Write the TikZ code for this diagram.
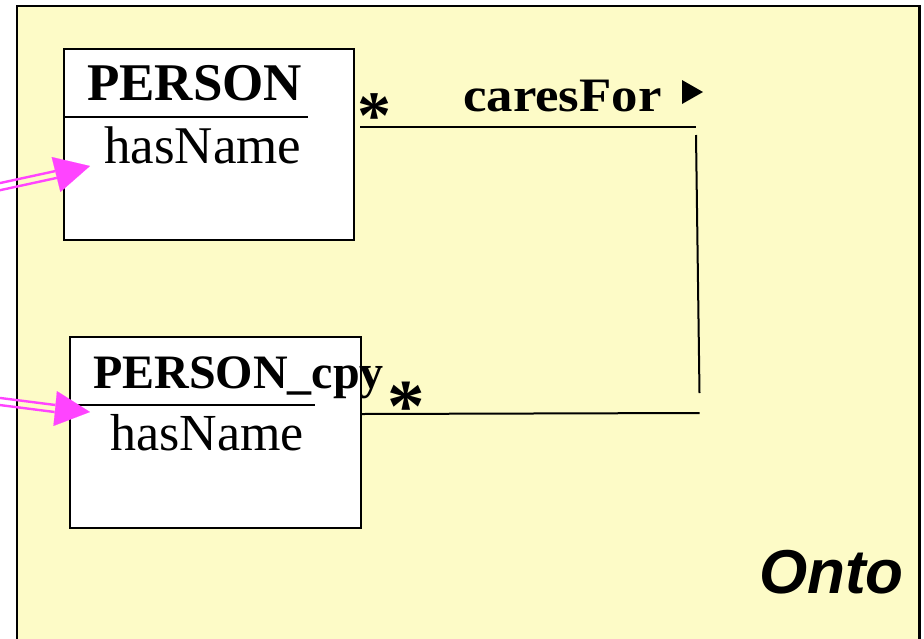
\documentclass[tikz,border=0pt]{standalone}
\usepackage{fontspec}
\setmainfont{Liberation Serif}
\newfontfamily\ontofont{Liberation Sans}
\usetikzlibrary{arrows.meta,calc}

\definecolor{ontobg}{RGB}{253,251,199}
\definecolor{linkpink}{RGB}{255,68,255}

\tikzset{
  classbox/.style={draw=black, line width=2pt, fill=white, anchor=north west, inner sep=0pt},
  classname/.style={anchor=base west, inner sep=0pt, font=\bfseries\fontsize{53}{60}\selectfont},
  attrname/.style={anchor=base west, inner sep=0pt, font=\fontsize{53}{60}\selectfont},
  assoc/.style={draw=black, line width=2pt},
  mult/.style={inner sep=0pt, font=\bfseries\fontsize{68}{74}\selectfont},
  maprail/.style={draw=linkpink, line width=2.4pt},
  maphead/.style={draw=linkpink, fill=linkpink, line width=0.1pt},
}

\begin{document}
\begin{tikzpicture}[x=1pt,y=-1pt]
  \useasboundingbox (0,0) rectangle (924,638);
  \clip (0,0) rectangle (924,638);

  % ontology frame, open at the bottom
  \draw[fill=ontobg, line width=2.6pt] (17,700) -- (17,6) -- (919.5,6) -- (919.5,700);
  \node[anchor=base east, inner sep=0pt, font=\ontofont\bfseries\itshape\fontsize{62}{68}\selectfont] (onto) at (904,593) {Onto};

  % class PERSON
  \node[classbox, minimum width=290pt, minimum height=191pt] (person) at (63,48) {};
  \draw[line width=2pt] (63,117) -- (308,117);
  \node[classname] (personname) at (87,100) {PERSON};
  \node[attrname] (personattr) at (104,163) {hasName};

  % class PERSON_cpy
  \node[classbox, minimum width=291pt, minimum height=191pt] (copy) at (69,336) {};
  \draw[line width=2pt] (69,405) -- (315,405);
  \node[classname, font=\bfseries\fontsize{48}{56}\selectfont] (copyname) at (93,388) {PERSON\_cpy};
  \node[attrname, font=\fontsize{52}{60}\selectfont] (copyattr) at (110,450) {hasName};

  % association caresFor
  \coordinate (a1) at (360,127);
  \coordinate (a2) at (696,127);
  \coordinate (a3) at (696,135);
  \coordinate (a4) at (699.5,393);
  \coordinate (a5) at (362,414);
  \coordinate (a6) at (699.5,413);
  \draw[assoc] (a1) -- (a2);
  \draw[assoc] (a3) -- (a4);
  \draw[assoc] (a5) -- (a6);
  \node[mult] (m1) at (374,116) {*};
  \node[mult, font=\bfseries\fontsize{75}{80}\selectfont] (m2) at (406,407) {*};
  \node[anchor=base west, inner sep=0pt] (assocname) at (463,111)
    {\scalebox{1.1}[1]{\bfseries\fontsize{48}{54}\selectfont caresFor}};
  \fill[black] (682,80) -- (703,92) -- (682,104) -- cycle;

  % mapping links into the attributes
  \coordinate (t1) at (-4,187.5);
  \coordinate (b1) at (56,174.5);
  \coordinate (h1) at (90,166);
  \draw[maprail] ([shift={(0.8,3.4)}]t1) -- ([shift={(0.8,3.4)}]b1);
  \draw[maprail] ([shift={(-0.8,-3.4)}]t1) -- ([shift={(-0.8,-3.4)}]b1);
  \draw[maphead, -{Triangle[length=35pt,width=36pt]}] (b1) -- (h1);

  \coordinate (t2) at (-4,401);
  \coordinate (b2) at (55,408.5);
  \coordinate (h2) at (90,412);
  \draw[maprail] ([shift={(-0.4,3.5)}]t2) -- ([shift={(-0.4,3.5)}]b2);
  \draw[maprail] ([shift={(0.4,-3.5)}]t2) -- ([shift={(0.4,-3.5)}]b2);
  \draw[maphead, -{Triangle[length=35pt,width=35pt]}] (b2) -- (h2);
\end{tikzpicture}
\end{document}
